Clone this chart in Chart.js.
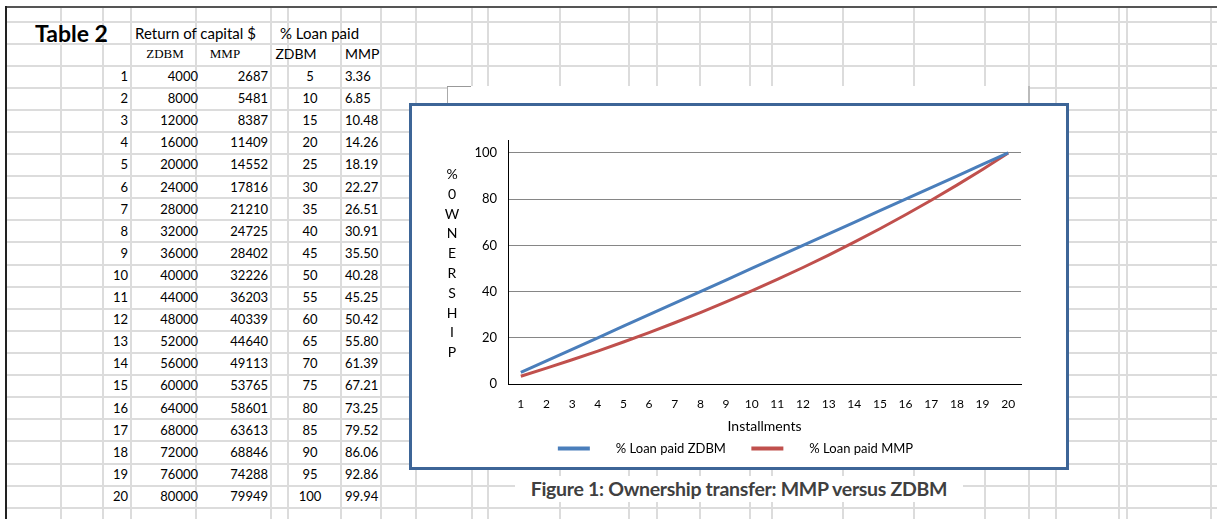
<!DOCTYPE html>
<html>
<head>
<meta charset="utf-8">
<script src="https://cdn.jsdelivr.net/npm/chart.js@4.4.0/dist/chart.umd.min.js"></script>
<style>
  html, body { margin: 0; padding: 0; background: #fff; }
  body { width: 1217px; height: 519px; position: relative; overflow: hidden; font-family: Lato, "Open Sans", sans-serif; color: #000; }
  .hl { position: absolute; left: 7px; right: 0; height: 2px; background: #dcdcdc; }
  .vl { position: absolute; top: 8px; bottom: 0; width: 2px; background: #dcdcdc; }
  .cell { position: absolute; font-size: 13px; line-height: 16px; white-space: nowrap; }
  #frame { position: absolute; left: 447px; top: 86px; width: 580px; height: 384px; background: #fff; border-left: 1px solid #aaa; border-right: 2px solid #bbb; }
  #frameCorner { position: absolute; left: 447px; top: 86px; width: 24px; height: 1px; background: #999; }
  #box { position: absolute; left: 409px; top: 103px; width: 654px; height: 361px; background: #fff; border: 3px solid #3d6597; }
  #chartWrap { position: absolute; left: 0; top: 0; width: 654px; height: 361px; }
  #ytitle { position: absolute; left: 30px; top: 58px; width: 20px; text-align: center; font-size: 14px; line-height: 19.8px; }
  #caption { position: absolute; left: 515px; top: 476px; width: 448px; height: 26px; background: #fff; text-align: center; font-weight: bold; font-size: 19.5px; line-height: 26px; color: #404040; letter-spacing: -0.3px; }
</style>
</head>
<body>
<div id="sheet"></div>
<div id="frame"></div>
<div id="frameCorner"></div>
<div id="box">
  <div id="chartWrap"><canvas id="chart" width="654" height="361"></canvas></div>
  <div id="ytitle"></div>
</div>
<div id="caption">Figure 1: Ownership transfer: MMP versus ZDBM</div>
<script>
// Table 2 values
const installments = ['1','2','3','4','5','6','7','8','9','10','11','12','13','14','15','16','17','18','19','20'];
const capitalZDBM = [4000, 8000, 12000, 16000, 20000, 24000, 28000, 32000, 36000, 40000, 44000, 48000, 52000, 56000, 60000, 64000, 68000, 72000, 76000, 80000];
const capitalMMP = [2687, 5481, 8387, 11409, 14552, 17816, 21210, 24725, 28402, 32226, 36203, 40339, 44640, 49113, 53765, 58601, 63613, 68846, 74288, 79949];
const loanZDBM = [5, 10, 15, 20, 25, 30, 35, 40, 45, 50, 55, 60, 65, 70, 75, 80, 85, 90, 95, 100];
const loanMMP = ['3.36', '6.85', '10.48', '14.26', '18.19', '22.27', '26.51', '30.91', '35.50', '40.28', '45.25', '50.42', '55.80', '61.39', '67.21', '73.25', '79.52', '86.06', '92.86', '99.94'];
const yTicks = [0, 20, 40, 60, 80, 100];
const yTitle = ['%', '0', 'W', 'N', 'E', 'R', 'S', 'H', 'I', 'P'];

// spreadsheet background
const sheet = document.getElementById('sheet');
const sheetCols = [60, 102, 130, 195, 270, 287, 340, 380, 415, 471, 487, 559, 628, 656, 699, 749, 771, 842, 913, 984, 1028, 1055, 1118, 1126, 1210];
for (let y = 20.5; y < 519; y += 22.1) {
    const d = document.createElement('div');
    d.className = 'hl';
    d.style.top = Math.round(y) + 'px';
    sheet.appendChild(d);
}
sheetCols.forEach(x => {
    const d = document.createElement('div');
    d.className = 'vl';
    d.style.left = x + 'px';
    sheet.appendChild(d);
});
// outer border
sheet.insertAdjacentHTML('beforeend',
    '<div style="position:absolute;left:5px;top:6px;right:0;height:2px;background:#555"></div>' +
    '<div style="position:absolute;left:5px;top:6px;bottom:0;width:2px;background:#222"></div>');

function addCell(text, left, top, width, align, extra) {
    const d = document.createElement('div');
    d.className = 'cell';
    d.textContent = text;
    d.style.left = left + 'px';
    d.style.top = top + 'px';
    d.style.width = width + 'px';
    d.style.textAlign = align;
    if (extra) d.style.cssText += extra;
    sheet.appendChild(d);
}

addCell('Table 2', 35, 19, 90, 'left', 'font-weight:bold;font-size:23px;line-height:28px;');
addCell('Return of capital $', 135, 24, 140, 'left', 'font-size:15px;line-height:18px;');
addCell('% Loan paid', 280, 24, 100, 'left', 'font-size:15px;line-height:18px;');
addCell('ZDBM', 140, 46, 50, 'center', 'font-family:"Liberation Serif",serif;font-size:13px;');
addCell('MMP', 205, 46, 40, 'center', 'font-family:"Liberation Serif",serif;font-size:13px;');
addCell('ZDBM', 272, 46, 48, 'center', 'font-size:14px;');
addCell('MMP', 345, 46, 40, 'left', 'font-size:14px;');

installments.forEach((n, i) => {
    const top = 68 + i * 22.1;
    addCell(n, 100, top, 28, 'right');
    addCell(capitalZDBM[i], 140, top, 58, 'right');
    addCell(capitalMMP[i], 210, top, 58, 'right');
    addCell(loanZDBM[i], 290, top, 40, 'center');
    addCell(loanMMP[i], 345, top, 40, 'left');
});

document.getElementById('ytitle').innerHTML = yTitle.map(c => '<div>' + c + '</div>').join('');

// chart
const ctx = document.getElementById('chart').getContext('2d');
new Chart(ctx, {
    type: 'line',
    data: {
        labels: installments,
        datasets: [{
            label: '% Loan paid ZDBM',
            data: loanZDBM,
            borderColor: '#4a7ebb',
            backgroundColor: '#4a7ebb',
            borderWidth: 3,
            pointRadius: 0,
            tension: 0
        }, {
            label: '% Loan paid MMP',
            data: loanMMP.map(Number),
            borderColor: '#c0504d',
            backgroundColor: '#c0504d',
            borderWidth: 3,
            pointRadius: 0,
            tension: 0
        }]
    },
    options: {
        responsive: false,
        animation: false,
        layout: { padding: { left: 38, right: 45, top: 34, bottom: 2 } },
        plugins: {
            tooltip: { enabled: false },
            legend: {
                position: 'bottom',
                labels: {
                    boxWidth: 32,
                    boxHeight: 4,
                    padding: 6,
                    color: '#000',
                    font: { family: 'Lato', size: 13 },
                    generateLabels: chart => Chart.defaults.plugins.legend.labels.generateLabels(chart).map((l, i, all) => {
                        l.text = '\u2002\u2002\u2002' + l.text + (i < all.length - 1 ? '\u2002\u2002\u2002' : '');
                        l.lineWidth = 0;
                        return l;
                    })
                }
            }
        },
        scales: {
            x: {
                offset: true,
                grid: { display: false, drawTicks: false },
                border: { display: true, color: '#000', width: 1 },
                ticks: { color: '#000', padding: 13, maxRotation: 0, autoSkip: false, font: { family: 'Lato', size: 12 } },
                title: { display: true, text: 'Installments', color: '#000', font: { family: 'Lato', size: 14 }, padding: { top: 0, bottom: 1 } },
                afterFit: s => { s.height = 52; }
            },
            y: {
                min: 0,
                max: 105.6,
                ticks: { stepSize: 20, color: '#000', padding: 11, font: { family: 'Lato', size: 13 } },
                afterBuildTicks: s => { s.ticks = yTicks.map(v => ({ value: v })); },
                grid: { color: '#868686', drawTicks: false },
                border: { display: true, color: '#000', width: 1 },
                afterFit: s => { s.width = 58; }
            }
        }
    }
});
</script>
</body>
</html>
